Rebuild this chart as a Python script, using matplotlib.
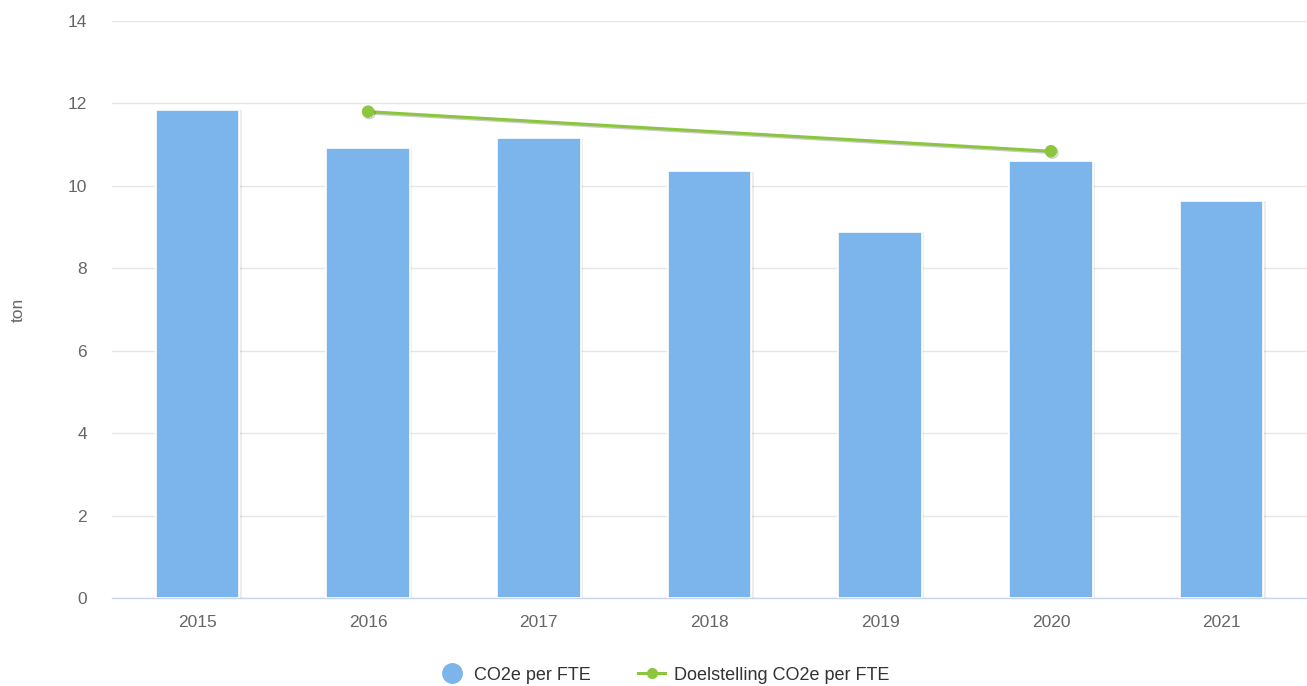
import matplotlib
matplotlib.use("Agg")
import matplotlib.pyplot as plt
from matplotlib.lines import Line2D
import matplotlib.patheffects as pe

years = ["2015", "2016", "2017", "2018", "2019", "2020", "2021"]
co2_per_fte = [11.85, 10.92, 11.15, 10.35, 8.89, 10.60, 9.63]
target_years = ["2016", "2020"]
target_values = [11.80, 10.84]
y_ticks = [0, 2, 4, 6, 8, 10, 12, 14]

plt.rcParams['font.family'] = ['Liberation Sans', 'DejaVu Sans']

fig = plt.figure(figsize=(13.07, 6.86), dpi=100)
ax = fig.add_axes([112/1307, 1-598/686, 1-112/1307, (598-21)/686])

x = list(range(len(years)))
ax.bar(x, co2_per_fte, width=0.49, color="#7cb5ec", edgecolor="white", linewidth=1.2, zorder=3,
       path_effects=[pe.SimpleLineShadow(offset=(1, -1), shadow_color="#000000", alpha=0.08), pe.Normal()])

tx = [years.index(y) for y in target_years]
ax.plot(tx, target_values, color="#8cc63f", linewidth=2.2, marker="o", markersize=8,
        markerfacecolor="#8cc63f", markeredgecolor="#8cc63f", zorder=4,
        path_effects=[pe.SimpleLineShadow(offset=(1, -1), shadow_color="#000000", alpha=0.2), pe.Normal()])

ax.set_xlim(-0.5, len(years) - 0.5)
ax.set_ylim(0, 14)
ax.set_yticks(y_ticks)
ax.set_yticklabels([str(v) for v in y_ticks])
ax.set_xticks(x)
ax.set_xticklabels(years)
ax.grid(axis="y", color="#e6e6e6", linewidth=1, zorder=0)
ax.set_axisbelow(True)
for s in ["top", "right", "left"]:
    ax.spines[s].set_visible(False)
ax.spines["bottom"].set_color("#ccd6eb")
ax.spines["bottom"].set_linewidth(1)
ax.tick_params(axis="y", length=0, pad=18, labelsize=12.5, labelcolor="#666666")
ax.tick_params(axis="x", length=0, pad=12, labelsize=12.5, labelcolor="#666666")
fig.text(18/1307, 1-310/686, "ton", rotation=90, ha="center", va="center", fontsize=12.5, color="#666666")

handles = [
    Line2D([], [], linestyle="none", marker="o", markersize=14, markerfacecolor="#7cb5ec", markeredgecolor="#7cb5ec"),
    Line2D([], [], color="#8cc63f", linewidth=2.2, marker="o", markersize=7, markerfacecolor="#8cc63f", markeredgecolor="#8cc63f"),
]
fig.legend(handles, ["CO2e per FTE", "Doelstelling CO2e per FTE"], loc="center", bbox_to_anchor=(0.508, 1-675/686),
           ncol=2, frameon=False, fontsize=13, labelcolor="#333333", handlelength=1.5, columnspacing=2.6, handletextpad=0.5)

fig.savefig("out.png", dpi=100)
